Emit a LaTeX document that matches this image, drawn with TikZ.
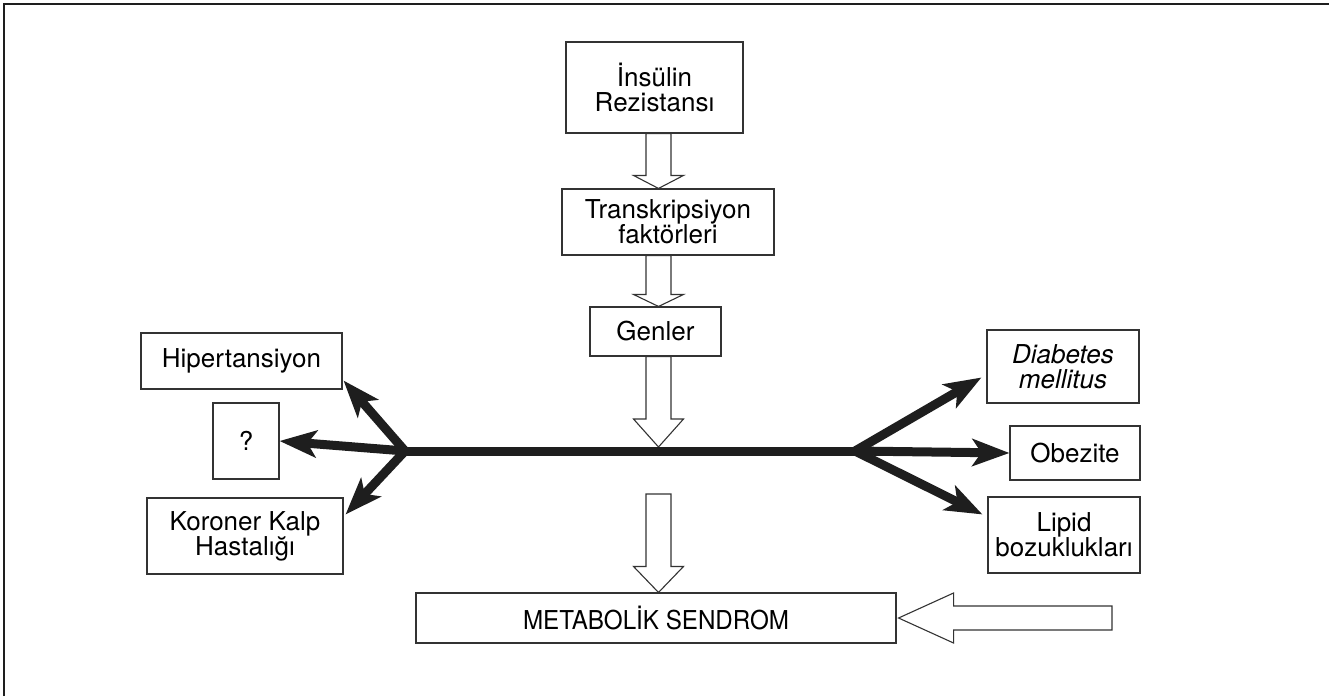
\documentclass[tikz,border=0pt]{standalone}
\usepackage{fontspec}
\setmainfont{TeX Gyre Heros}
\usetikzlibrary{arrows.meta,calc}
\definecolor{ink}{HTML}{1E1E1E}
\definecolor{edge}{HTML}{333333}
\newcommand\hollowdown[3]{\draw[hollow] let \p1=(#1),\p2=(#2) in
  (\x1-12.5pt,\y1) -- (\x1+12.5pt,\y1) -- (\x1+12.5pt,\y2+#3pt) -- (\x1+25pt,\y2+#3pt)
  -- (\x1,\y2) -- (\x1-25pt,\y2+#3pt) -- (\x1-12.5pt,\y2+#3pt) -- cycle;}
\begin{document}
\begin{tikzpicture}[x=1pt,y=-1pt,
  box/.style={draw=edge,line width=1.1pt,fill=white,align=center,inner sep=0pt,
    font=\fontsize{26}{25}\selectfont},
  bigarrow/.style={line width=9pt,draw=ink,-{Stealth[length=37pt,width=27pt,inset=9pt]}},
  hollow/.style={draw=edge,line width=1.1pt,fill=white,line join=miter}]
\useasboundingbox (0,0) rectangle (1329,696);
\draw[line width=1.5pt,draw=ink] (4,696) -- (4,4) -- (1329,4);

\node[box,minimum width=177,minimum height=91] (ins) at (654.5,87.5) {İnsülin\\Rezistansı};
\node[box,minimum width=212,minimum height=66] (trans) at (668,222) {Transkripsiyon\\faktörleri};
\node[box,minimum width=131,minimum height=49] (gen) at (655.5,331.5) {Genler};
\node[box,minimum width=201,minimum height=56] (hip) at (241.5,361) {Hipertansiyon};
\node[box,minimum width=66,minimum height=76] (q) at (246,441) {?};
\node[box,minimum width=196,minimum height=76] (kor) at (245,536) {Koroner Kalp\\Hastalığı};
\node[box,minimum width=152,minimum height=73,font=\fontsize{26}{25}\selectfont\itshape] (dia) at (1063,366.5) {Diabetes\\mellitus};
\node[box,minimum width=130,minimum height=54] (obe) at (1075,453) {Obezite};
\node[box,minimum width=152,minimum height=76] (lip) at (1064,535) {Lipid\\bozuklukları};
\node[box,minimum width=480,minimum height=50] (met) at (656,618) {\scalebox{0.93}[1]{METABOLİK SENDROM}};

\coordinate (axis) at (658.5,0);
\coordinate (L) at (405,451);
\coordinate (R) at (855,451);
\coordinate (top) at (658.5,447);
\coordinate (ms) at (658.5,494);
\coordinate (mr) at (1112,618);

\hollowdown{ins.south -| axis}{trans.north -| axis}{13}
\hollowdown{trans.south -| axis}{gen.north -| axis}{12}
\hollowdown{gen.south -| axis}{top}{28}
\hollowdown{ms}{met.north -| axis}{26}
\draw[hollow] let \p1=(mr),\p2=(met.east) in
  (\x1,\y2+12pt) -- (\x2+57pt,\y2+12pt) -- (\x2+57pt,\y2+25pt) -- (\x2+2pt,\y2)
  -- (\x2+57pt,\y2-25pt) -- (\x2+57pt,\y2-12pt) -- (\x1,\y2-12pt) -- cycle;

\draw[line width=9pt,draw=ink] (L) -- (R);
\draw[bigarrow] (L) -- ($(hip.south east)+(1,-9)$);
\draw[bigarrow] (L) -- (q.east);
\draw[bigarrow] (L) -- ($(kor.north east)+(2,17)$);
\draw[bigarrow] (R) -- ($(dia.west)+(-5,11)$);
\draw[bigarrow] (R) -- (obe.west);
\draw[bigarrow] (R) -- ($(lip.north west)+(-5,18)$);
\end{tikzpicture}
\end{document}
